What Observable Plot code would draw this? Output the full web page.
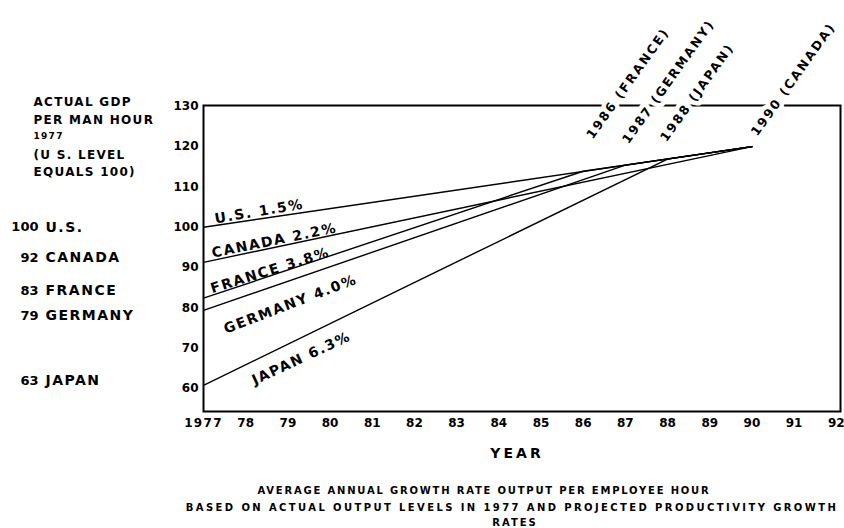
<!DOCTYPE html>
<html>
<head>
<meta charset="utf-8">
<script src="https://cdn.jsdelivr.net/npm/d3@7"></script>
<script src="https://cdn.jsdelivr.net/npm/@observablehq/plot@0.6"></script>
<style>
  html, body { margin: 0; padding: 0; background: #fff; }
  #chart svg { display: block; }
</style>
</head>
<body>
<div id="chart"></div>
<script>
// ---- data ----
const countries   = ["U.S.", "CANADA", "FRANCE", "GERMANY", "JAPAN"];
const growthRates = ["1.5%", "2.2%", "3.8%", "4.0%", "6.3%"];
const actual1977  = [100, 92, 83, 79, 63];          // actual GDP per man hour, 1977 (US = 100)
const drawn1977   = [100, 91.3, 82.4, 79.4, 60.8];   // where each line starts on the axis
const meetYear    = [1990, 1990, 1986, 1987, 1988];  // year each country reaches the U.S. level
const meetLevel   = [120, 120, 113.9, 115.4, 116.9]; // level at that year (on the U.S. line)
const endYear = 1990, endLevel = 120;
const leftLabelLevel = [100, 92.5, 84.3, 78.1, 62];  // vertical placement of the left-hand list
const rateLabelYear  = [1978.32, 1978.68, 1978.58, 1979.06, 1979.32];
const rateLabelLevel = [103.9, 96.7, 89.3, 80.9, 67.5];
const rateLabelAngle = [-9.5, -11.6, -17.4, -21, -25];
const catchUp = [
  {year: 1986.15, label: "1986", country: "FRANCE",  level: 122.3},
  {year: 1987.0,  label: "1987", country: "GERMANY", level: 121.1},
  {year: 1987.9,  label: "1988", country: "JAPAN",   level: 121.6},
  {year: 1990.05, label: "1990", country: "CANADA",  level: 123}
];
const yTicks = [60, 70, 80, 90, 100, 110, 120, 130];
const xTicks = d3.range(1977, 1993);
const headerLines = ["ACTUAL GDP", "PER MAN HOUR", "1977", "(U S. LEVEL", "EQUALS 100)"];
const captionLines = [
  "AVERAGE ANNUAL GROWTH RATE OUTPUT PER EMPLOYEE HOUR",
  "BASED ON ACTUAL OUTPUT LEVELS IN 1977 AND PROJECTED PRODUCTIVITY GROWTH",
  "RATES"
];

// ---- tables built from the arrays ----
const pts = [];
countries.forEach((c, i) => {
  pts.push({country: c, year: 1977, level: drawn1977[i]});
  pts.push({country: c, year: meetYear[i], level: meetLevel[i]});
  if (meetYear[i] < endYear) pts.push({country: c, year: endYear, level: endLevel});
});
const rateLabels = countries.map((c, i) => ({
  text: `${c} ${growthRates[i]}`, year: rateLabelYear[i], level: rateLabelLevel[i], angle: rateLabelAngle[i]
}));
const leftLabels = countries.map((c, i) => ({num: String(actual1977[i]), name: c, level: leftLabelLevel[i]}));
const catchText = d => `${d.label} (${d.country})`;

const FONT = "DejaVu Sans";
const note = (t, dy, size) => Plot.text([t], {frameAnchor: "top-left", lineAnchor: "middle", textAnchor: "start",
  dx: -170, dy, fontSize: size});
const cap = (t, dx, dy, size) => Plot.text([t], {frameAnchor: "bottom", lineAnchor: "middle", dx, dy, fontSize: size});

const chart = Plot.plot({
  width: 844,
  height: 528,
  marginLeft: 203,
  marginRight: 4,
  marginTop: 105,
  marginBottom: 117,
  style: {fontFamily: FONT, fontSize: "12px", fontWeight: "bold", color: "black", background: "white"},
  x: {domain: [1977, 1992.1], ticks: xTicks, tickFormat: d => d === 1977 ? "1977" : String(d).slice(2),
      tickSize: 0, tickPadding: 7, label: null},
  y: {domain: [54.3, 130.2], ticks: yTicks, tickSize: 0, tickPadding: 5, label: null},
  marks: [
    Plot.frame({stroke: "black", strokeWidth: 2}),
    Plot.line(pts, {x: "year", y: "level", z: "country", stroke: "black", strokeWidth: 1.4}),
    Plot.text(rateLabels, {x: "year", y: "level", text: "text", rotate: "angle",
      fontSize: 14, fontWeight: "bold", fill: "black"}),
    Plot.text(catchUp, {x: "year", y: "level", text: catchText, rotate: -54.5,
      textAnchor: "start", fontSize: 12.5, fontWeight: "bold", fill: "black",
      stroke: "white", strokeWidth: 9, paintOrder: "stroke"}),
    // left-hand list of 1977 levels
    Plot.text(leftLabels, {y: "level", text: "num", frameAnchor: "left", textAnchor: "end", dx: -165,
      fontSize: 13, fontWeight: "bold"}),
    Plot.text(leftLabels, {y: "level", text: "name", frameAnchor: "left", textAnchor: "start", dx: -158,
      fontSize: 14, fontWeight: "bold"}),
    // header note
    note(headerLines[0], -3, 12),
    note(headerLines[1], 15, 12),
    note(headerLines[2], 31, 9),
    note(headerLines[3], 50, 12),
    note(headerLines[4], 67, 12),
    // axis title and caption
    cap("YEAR", -5, 42, 14),
    cap(captionLines[0], -38, 79, 10),
    cap(captionLines[1], -10, 96, 10),
    cap(captionLines[2], -7, 111, 10)
  ]
});
document.getElementById("chart").appendChild(chart);

// letter spacing to mimic the wide lettering of the original
const spacing = new Map();
rateLabels.forEach(d => spacing.set(d.text, "1.6px"));
catchUp.forEach(d => spacing.set(catchText(d), "2px"));
countries.forEach(c => spacing.set(c, "1.5px"));
headerLines.forEach(t => spacing.set(t, "1.3px"));
spacing.set("YEAR", "3px");
spacing.set(captionLines[0], "1.8px");
spacing.set(captionLines[1], "2.4px");
spacing.set(captionLines[2], "2px");
d3.select(chart).selectAll("text").each(function() {
  const s = spacing.get(this.textContent);
  if (s) this.style.letterSpacing = s;
});
</script>
</body>
</html>
